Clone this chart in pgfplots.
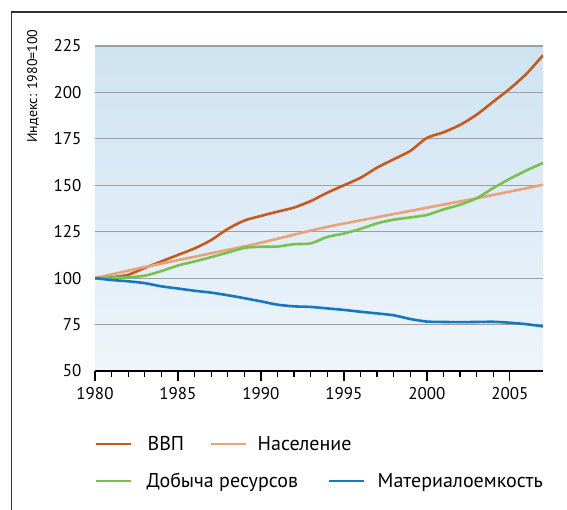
\documentclass[border=0pt]{standalone}
\usepackage{fontspec}
\setmainfont{PT Sans}
\usepackage{pgfplots}
\usepackage{pgfplotstable}
\pgfplotsset{compat=1.18}

\definecolor{cgdp}{RGB}{201,88,28}
\definecolor{cpop}{RGB}{234,162,122}
\definecolor{cres}{RGB}{122,192,78}
\definecolor{cmat}{RGB}{22,120,190}
\definecolor{bgtop}{RGB}{206,227,241}
\definecolor{bgbot}{RGB}{238,245,251}
\definecolor{cframe}{RGB}{50,50,50}

\pgfplotstableread{
year gdp pop res mat
1980 100.0 100.0 100.0 100.0
1981 100.5 102.0 100.3 99.0
1982 101.8 104.0 100.5 98.3
1983 105.5 106.0 101.3 97.3
1984 109.0 107.8 103.8 95.6
1985 112.5 109.7 106.8 94.4
1986 116.0 111.5 109.0 93.2
1987 120.5 113.4 111.3 92.2
1988 126.5 115.2 113.8 90.8
1989 131.0 117.1 116.3 89.2
1990 133.5 119.1 116.9 87.5
1991 135.8 121.2 117.0 85.7
1992 138.0 123.4 118.3 84.8
1993 141.5 125.6 118.7 84.5
1994 146.0 127.6 122.2 83.7
1995 150.0 129.4 124.0 82.9
1996 154.0 131.1 126.5 81.9
1997 159.5 132.8 129.5 81.0
1998 164.0 134.5 131.5 80.0
1999 168.5 136.2 132.7 78.0
2000 175.5 137.9 134.0 76.6
2001 178.5 139.6 137.0 76.4
2002 182.5 141.3 139.5 76.3
2003 188.0 143.0 143.0 76.4
2004 195.0 144.8 148.5 76.5
2005 202.0 146.6 153.5 76.0
2006 210.0 148.4 158.0 75.2
2007 220.0 150.3 162.0 74.0
}\datatable

\pgfplotsset{
  common/.style={
    at={(95pt,139pt)}, anchor=south west,
    scale only axis, width=448pt, height=325pt,
    xmin=1980, xmax=2007, ymin=50, ymax=225,
    legend columns=2,
    legend image code/.code={\draw[##1, line width=2.6pt] (0pt,0pt) -- (35pt,0pt);},
  }
}

\begin{document}
\begin{tikzpicture}[x=1pt,y=1pt]
\path[use as bounding box] (0,0) rectangle (567,510);
\draw[line width=1.3pt, cframe] (11.5,0) -- (11.5,498) -- (567,498);
\begin{axis}[
  common,
  axis x line*=bottom, axis y line*=left,
  y axis line style={draw=none},
  x axis line style={line width=1.3pt, -},
  xtick={1980,1985,...,2005}, minor x tick num=4,
  ytick={50,75,...,225},
  ymajorgrids, grid style={line width=1.2pt, color=black!38},
  axis background/.style={top color=bgtop, bottom color=bgbot},
  tick align=outside,
  major tick length=10pt, minor tick length=6.5pt,
  xtick style={black, line width=1.3pt},
  ytick style={draw=none},
  tick label style={font=\fontsize{17}{20}\selectfont},
  xticklabel style={yshift=-3pt},
  /pgf/number format/1000 sep={},
  /pgf/number format/assume math mode=true,
  ylabel={Индекс: 1980=100},
  every axis y label/.style={at={(axis description cs:0,0.877)}, xshift=-62pt, rotate=90, anchor=center, font=\fontsize{14}{17}\selectfont},
  legend style={draw=none, fill=none, inner sep=0pt, outer sep=0pt, at={(axis description cs:0,0)}, anchor=west, yshift=-73pt,
    font=\fontsize{20}{23}\selectfont, nodes={inner sep=0pt},
    /tikz/column 1/.style={column sep=15pt},
    /tikz/column 2/.style={column sep=26pt},
    /tikz/column 3/.style={column sep=10pt}},
]
\addplot[cgdp, line width=2.6pt, smooth, tension=0.4] table[x=year, y=gdp] {\datatable};
\addlegendentry{ВВП}
\addplot[cpop, line width=2.6pt, smooth, tension=0.4] table[x=year, y=pop] {\datatable};
\addlegendentry{Население}
\addplot[cres, line width=2.6pt, smooth, tension=0.4, forget plot] table[x=year, y=res] {\datatable};
\addplot[cmat, line width=2.6pt, smooth, tension=0.4, forget plot] table[x=year, y=mat] {\datatable};
\end{axis}
\begin{axis}[
  common, hide axis,
  legend style={draw=none, fill=none, inner sep=0pt, outer sep=0pt, at={(axis description cs:0,0)}, anchor=west, yshift=-110pt,
    font=\fontsize{20}{23}\selectfont, nodes={inner sep=0pt},
    /tikz/column 1/.style={column sep=14pt},
    /tikz/column 2/.style={column sep=30pt},
    /tikz/column 3/.style={column sep=12pt}},
]
\addlegendimage{cres}
\addlegendentry{Добыча ресурсов}
\addlegendimage{cmat}
\addlegendentry{Материалоемкость}
\end{axis}
\end{tikzpicture}
\end{document}
